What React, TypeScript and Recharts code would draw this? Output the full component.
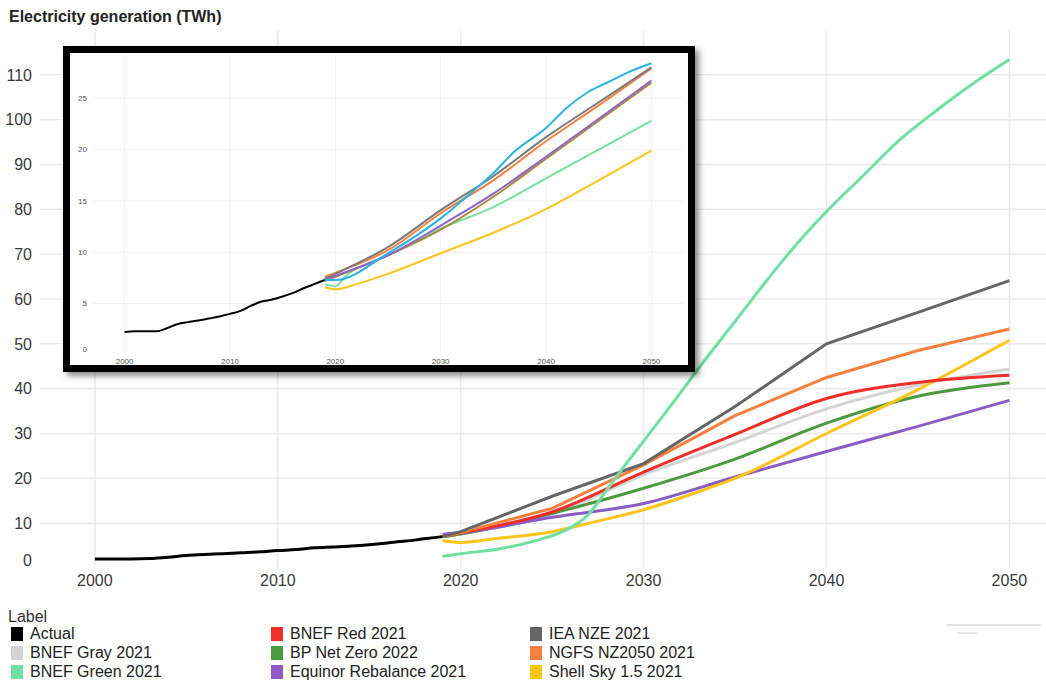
import React from "react";
import { LineChart, Line, XAxis, YAxis, CartesianGrid } from "recharts";

// ---------- Main chart data ----------
const actualYears = [2000, 2001, 2002, 2003, 2004, 2005, 2006, 2007, 2008, 2009, 2010, 2011, 2012, 2013, 2014, 2015, 2016, 2017, 2018, 2019];
const actualValues = [2.0, 2.0, 2.0, 2.1, 2.4, 2.8, 3.0, 3.2, 3.4, 3.6, 3.9, 4.1, 4.5, 4.7, 4.9, 5.2, 5.6, 6.0, 6.5, 7.0];

const scenarioYears = [2019, 2020, 2025, 2030, 2035, 2040, 2045, 2050];
const bnefRed = [7.0, 7.8, 12.5, 21.4, 29.8, 37.8, 41.4, 43.0];
const ieaNze = [7.0, 8.1, 16.0, 23.3, 36.0, 50.0, 57.0, 64.1];
const bnefGray = [7.0, 7.6, 12.0, 20.8, 28.0, 35.5, 40.8, 44.4];
const bpNetZero = [7.0, 7.6, 12.2, 17.8, 24.3, 32.3, 38.3, 41.3];
const ngfs = [7.0, 7.9, 13.3, 23.0, 34.0, 42.5, 48.5, 53.3];
const equinor = [7.5, 7.9, 11.3, 14.4, 20.3, 26.0, 31.6, 37.4];
const shellYears = [2019, 2020, 2022, 2025, 2027, 2030, 2033, 2035, 2040, 2045, 2050];
const shell = [6.1, 5.7, 6.6, 8.1, 10.0, 13.0, 17.0, 20.0, 30.0, 39.8, 50.8];
const greenYears = [2019, 2020, 2022, 2024, 2026, 2027, 2028, 2029, 2030, 2031, 2032, 2033, 2035, 2037, 2038, 2040, 2042, 2044, 2046, 2048, 2050];
const bnefGreen = [2.6, 3.2, 4.2, 6.0, 9.0, 12.0, 17.5, 23.0, 28.3, 33.6, 39.0, 44.5, 55.0, 65.5, 70.5, 79.5, 87.5, 95.5, 102.0, 108.0, 113.4];

const mainXTicks = [2000, 2010, 2020, 2030, 2040, 2050];
const mainYTicks = [0, 10, 20, 30, 40, 50, 60, 70, 80, 90, 100, 110];

// ---------- Inset data ----------
const insetActualValues = [2.25, 2.3, 2.3, 2.3, 2.6, 3.0, 3.2, 3.35, 3.55, 3.75, 4.0, 4.3, 4.8, 5.2, 5.4, 5.7, 6.05, 6.5, 6.9, 7.3];
const insetYears = [2019, 2020, 2025, 2030, 2035, 2040, 2045, 2050];
const insetGray = [7.4, 7.9, 10.5, 14.1, 17.4, 21.2, 24.6, 28.0];
const insetOrange = [7.6, 8.0, 10.2, 13.8, 17.0, 20.8, 24.3, 27.9];
const insetPurple = [7.3, 7.7, 9.7, 12.6, 15.7, 19.3, 23.0, 26.7];
const insetOlive = [7.2, 7.6, 9.7, 12.2, 15.4, 19.1, 22.8, 26.5];
const insetGreenYears = [2019, 2020, 2021, 2025, 2030, 2035, 2040, 2045, 2050];
const insetGreen = [6.9, 6.7, 7.7, 9.7, 12.3, 14.4, 17.2, 20.0, 22.8];
const insetYellowYears = [2019, 2020, 2022, 2025, 2030, 2035, 2040, 2045, 2050];
const insetYellow = [6.6, 6.4, 6.9, 7.9, 9.9, 11.9, 14.2, 17.0, 19.9];
const insetBlueYears = [2019, 2020, 2025, 2030, 2033, 2035, 2037, 2040, 2042, 2044, 2046, 2048, 2050];
const insetBlue = [7.3, 7.3, 9.9, 13.3, 15.9, 17.7, 19.8, 22.1, 24.1, 25.6, 26.6, 27.6, 28.4];

const insetXTicks = [2000, 2010, 2020, 2030, 2040, 2050];
const insetYTicks = [0, 5, 10, 15, 20, 25];

// ---------- Legend ----------
const legendColumns = [
  [
    { label: "Actual", color: "#000000" },
    { label: "BNEF Gray 2021", color: "#d4d4d4" },
    { label: "BNEF Green 2021", color: "#6fe0a2" },
  ],
  [
    { label: "BNEF Red 2021", color: "#ef2f2a" },
    { label: "BP Net Zero 2022", color: "#4c9a3f" },
    { label: "Equinor Rebalance 2021", color: "#8b5cc4" },
  ],
  [
    { label: "IEA NZE 2021", color: "#666666" },
    { label: "NGFS NZ2050 2021", color: "#f7803f" },
    { label: "Shell Sky 1.5 2021", color: "#fdc51a" },
  ],
];

const FONT = "'Liberation Sans', Arial, Helvetica, sans-serif";

const toRows = (years: number[], values: number[]) =>
  years.map((y, i) => ({ year: y, value: values[i] }));

const MainYTick = (props: any) => {
  const { x, y, payload } = props;
  return (
    <text x={x} y={payload.value === 0 ? y - 8 : y} dy="0.355em" textAnchor="end" fill="#3a3a3a" fontSize={16} fontFamily={FONT}>
      {payload.value}
    </text>
  );
};

const InsetYTick = (props: any) => {
  const { x, y, payload } = props;
  return (
    <text x={x} y={payload.value === 0 ? y - 6 : y} dy="0.355em" textAnchor="end" fill="#555" fontSize={8} fontFamily={FONT}>
      {payload.value}
    </text>
  );
};

const mainSeries = [
  { years: scenarioYears, values: bnefGray, color: "#d4d4d4", type: "monotone" },
  { years: scenarioYears, values: bpNetZero, color: "#4c9a3f", type: "monotone" },
  { years: scenarioYears, values: equinor, color: "#8b5cc4", type: "monotone" },
  { years: shellYears, values: shell, color: "#fdc51a", type: "monotone" },
  { years: scenarioYears, values: bnefRed, color: "#ef2f2a", type: "monotone" },
  { years: scenarioYears, values: ngfs, color: "#f7803f", type: "linear" },
  { years: scenarioYears, values: ieaNze, color: "#666666", type: "linear" },
  { years: greenYears, values: bnefGreen, color: "#6fe0a2", type: "monotone" },
  { years: actualYears, values: actualValues, color: "#000000", type: "monotone" },
];

const insetSeries = [
  { years: insetYellowYears, values: insetYellow, color: "#fdc51a" },
  { years: insetGreenYears, values: insetGreen, color: "#77e0a0" },
  { years: insetYears, values: insetOlive, color: "#a98a3a" },
  { years: insetYears, values: insetPurple, color: "#9063c8" },
  { years: insetYears, values: insetOrange, color: "#f7803f" },
  { years: insetYears, values: insetGray, color: "#7a7a7a" },
  { years: insetBlueYears, values: insetBlue, color: "#27b3e6" },
  { years: actualYears, values: insetActualValues, color: "#000000" },
];

export default function App() {
  return (
    <div style={{ position: "absolute", left: 0, top: 0, width: 1046, height: 681, background: "#fff", overflow: "hidden", fontFamily: FONT }}>
      <div style={{ position: "absolute", left: 0, top: 0 }}>
        <LineChart width={1046} height={598} margin={{ top: 30, right: 0, bottom: 0, left: 0 }}>
          <CartesianGrid stroke="#ebebeb" strokeWidth={1.5} horizontalValues={mainYTicks.filter((t) => t > 0)} verticalValues={mainXTicks} />
          <XAxis
            dataKey="year"
            type="number"
            domain={[1997, 2052]}
            ticks={mainXTicks}
            allowDataOverflow
            axisLine={false}
            tickLine={false}
            tickSize={6}
            tickMargin={1}
            height={30}
            tick={{ fill: "#3a3a3a", fontSize: 16, fontFamily: FONT }}
          />
          <YAxis
            type="number"
            domain={[0, 120]}
            ticks={mainYTicks}
            allowDataOverflow
            axisLine={false}
            tickLine={false}
            width={40}
            tick={<MainYTick />}
          />
          {mainSeries.map((s, i) => (
            <Line
              key={i}
              data={toRows(s.years, s.values)}
              dataKey="value"
              type={s.type as any}
              stroke={s.color}
              strokeWidth={3}
              dot={false}
              activeDot={false}
              isAnimationActive={false}
            />
          ))}
        </LineChart>
      </div>

      <div
        style={{
          position: "absolute",
          left: 63,
          top: 46,
          width: 618,
          height: 312,
          border: "7px solid #000",
          background: "#fff",
          boxShadow: "4px 4px 6px rgba(0,0,0,0.45)",
        }}
      >
        <LineChart width={618} height={312} margin={{ top: 2, right: 5, bottom: 0, left: 0 }}>
          <CartesianGrid stroke="#f1f1f1" strokeWidth={1} horizontalValues={insetYTicks.filter((t) => t > 0)} verticalValues={insetXTicks} />
          <XAxis
            dataKey="year"
            type="number"
            domain={[1997, 2053]}
            ticks={insetXTicks}
            allowDataOverflow
            axisLine={false}
            tickLine={false}
            tickSize={0}
            tickMargin={3}
            height={10}
            tick={{ fill: "#555", fontSize: 8, fontFamily: FONT }}
          />
          <YAxis
            type="number"
            domain={[0, 29.2]}
            ticks={insetYTicks}
            allowDataOverflow
            axisLine={false}
            tickLine={false}
            tickSize={0}
            tickMargin={6}
            width={23}
            tick={<InsetYTick />}
          />
          {insetSeries.map((s, i) => (
            <Line
              key={i}
              data={toRows(s.years, s.values)}
              dataKey="value"
              type="monotone"
              stroke={s.color}
              strokeWidth={2}
              dot={false}
              activeDot={false}
              isAnimationActive={false}
            />
          ))}
        </LineChart>
      </div>

      <div style={{ position: "absolute", left: 9, top: 8, fontSize: 16, lineHeight: "18px", fontWeight: "bold", color: "#222" }}>
        Electricity generation (TWh)
      </div>

      <div style={{ position: "absolute", left: 8, top: 609, fontSize: 16, lineHeight: "16px", color: "#333" }}>Label</div>
      {legendColumns.map((col, ci) =>
        col.map((item, ri) => (
          <div
            key={ci + "-" + ri}
            style={{
              position: "absolute",
              left: [11, 271, 530][ci],
              top: 626 + ri * 19,
              height: 16,
              display: "flex",
              alignItems: "center",
              fontSize: 16,
              lineHeight: "16px",
              color: "#222",
              whiteSpace: "nowrap",
            }}
          >
            <span style={{ display: "inline-block", width: 12, height: 14, background: item.color, marginRight: 7 }} />
            {item.label}
          </div>
        ))
      )}

      <div style={{ position: "absolute", left: 947, top: 624, width: 94, height: 2, background: "#e2e2e2" }} />
      <div style={{ position: "absolute", left: 957, top: 632, width: 20, height: 2, background: "#e6e6e6" }} />
    </div>
  );
}
